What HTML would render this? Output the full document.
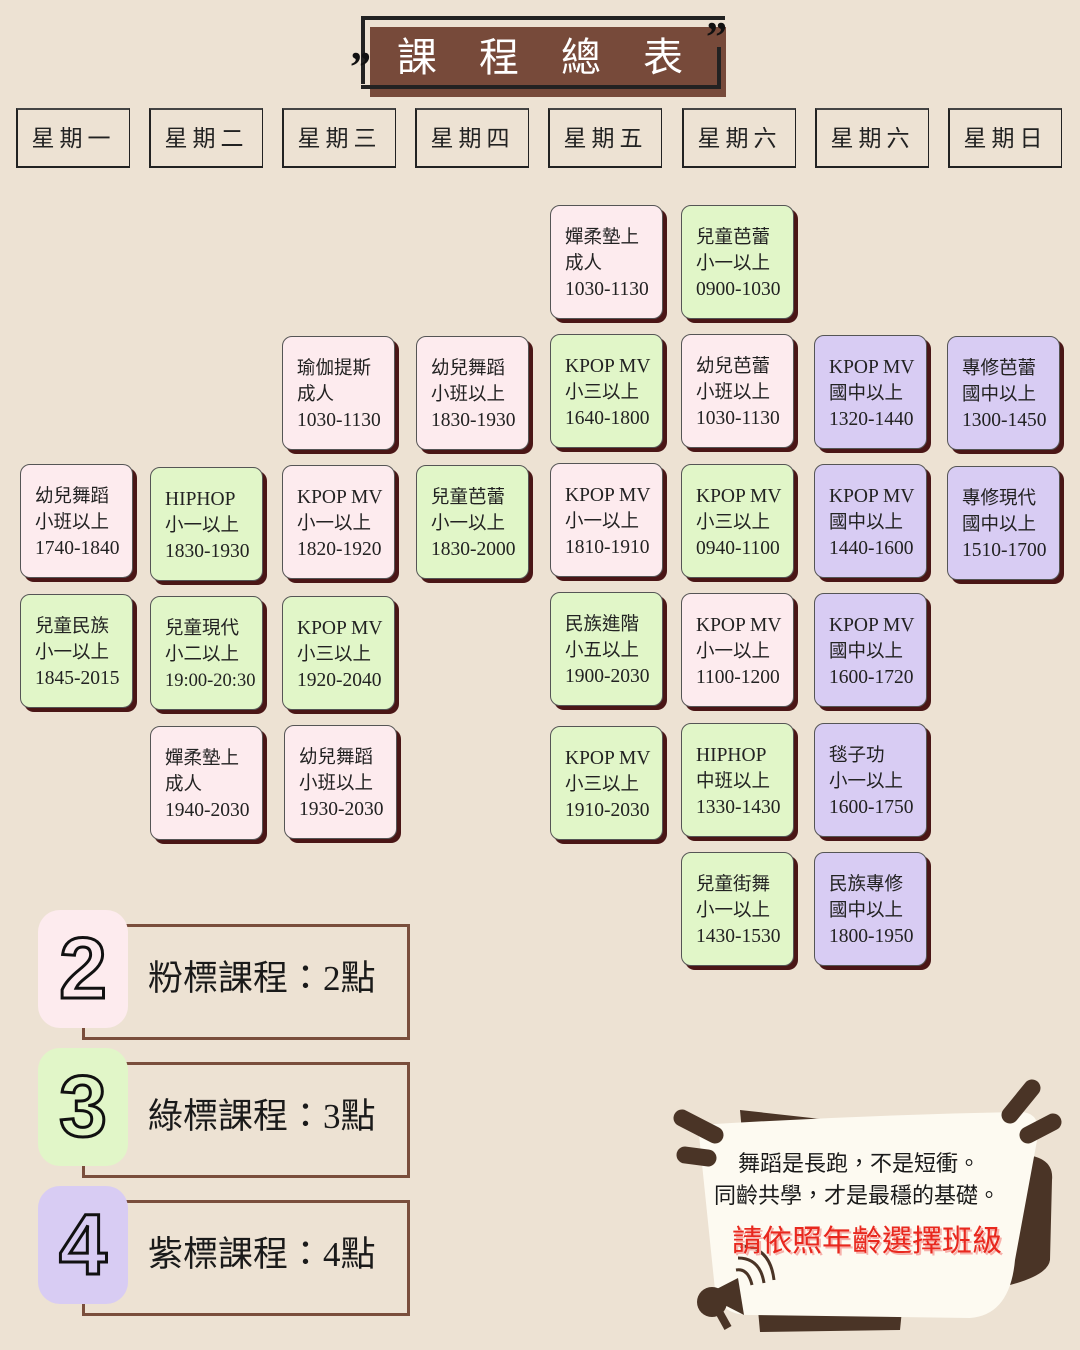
<!DOCTYPE html>
<html><head><meta charset="utf-8">
<style>
body{margin:0;}
#p{position:relative;width:1080px;height:1350px;background:#EDE2D3;overflow:hidden;font-family:"Liberation Serif","Noto Sans CJK TC",serif;}
.h{position:absolute;top:108px;width:114px;height:60px;border:2px solid #222;border-top-color:#444;box-sizing:border-box;font-family:"Liberation Sans","Noto Sans CJK TC",sans-serif;font-size:23px;letter-spacing:5px;color:#222;text-align:center;line-height:56px;border-right-width:1px}
.c{position:absolute;width:113px;height:114px;border:1px solid #555;border-radius:10px;box-sizing:border-box;box-shadow:4px 4px 0 #4a1616;padding:19px 0 0 14px;font-size:18.5px;line-height:26px;color:#222;white-space:nowrap}
.c span{font-family:"Liberation Serif",serif;font-size:19.5px;}
.p{background:#FDEBEE}.g{background:#E1F6C8}.u{background:#D8CCF3}
.lb{position:absolute;left:82px;width:328px;height:116px;border:3px solid #7a4e3c;box-sizing:border-box}
.lt{position:absolute;left:148px;font-size:35px;color:#1a1a1a;font-family:"Liberation Serif","Noto Sans CJK TC",serif}
.sq{position:absolute;left:38px;width:90px;height:118px;border-radius:22px;font-family:"Liberation Sans",sans-serif;font-size:86px;font-weight:bold;color:transparent;-webkit-text-stroke:3px #111;text-align:center;line-height:118px}
.tt{position:absolute;top:27px;color:#fff;font-family:'Liberation Sans','Noto Sans CJK TC',sans-serif;font-size:40px;line-height:62px}
</style></head><body><div id="p">
<!-- title -->
<div style="position:absolute;left:361px;top:16px;width:360px;height:64px;border-top:4px solid #222;border-left:4px solid #222"></div>
<div style="position:absolute;left:370px;top:27px;width:356px;height:70px;background:#774A3A"></div>
<div style="position:absolute;left:361px;top:47px;width:360px;height:42px;border-bottom:4px solid #222;border-right:4px solid #222;box-sizing:border-box;"></div>
<div class="tt" style="left:397px">課</div>
<div class="tt" style="left:479px">程</div>
<div class="tt" style="left:561px">總</div>
<div class="tt" style="left:643px">表</div>
<div style="position:absolute;left:350px;top:44px;font-size:42px;font-weight:bold;color:#111;font-family:'Liberation Serif',serif">”</div>
<div style="position:absolute;left:706px;top:14px;font-size:42px;font-weight:bold;color:#111;font-family:'Liberation Serif',serif">”</div>
<!-- headers -->
<div class="h" style="left:16px">星期一</div>
<div class="h" style="left:149px">星期二</div>
<div class="h" style="left:282px">星期三</div>
<div class="h" style="left:415px">星期四</div>
<div class="h" style="left:548px">星期五</div>
<div class="h" style="left:682px">星期六</div>
<div class="h" style="left:815px">星期六</div>
<div class="h" style="left:948px">星期日</div>
<!-- row1 -->
<div class="c p" style="left:550px;top:205px">嬋柔墊上<br>成人<br><span>1030-1130</span></div>
<div class="c g" style="left:681px;top:205px">兒童芭蕾<br>小一以上<br><span>0900-1030</span></div>
<!-- row2 -->
<div class="c p" style="left:282px;top:336px">瑜伽提斯<br>成人<br><span>1030-1130</span></div>
<div class="c p" style="left:416px;top:336px">幼兒舞蹈<br>小班以上<br><span>1830-1930</span></div>
<div class="c g" style="left:550px;top:334px"><span>KPOP MV</span><br>小三以上<br><span>1640-1800</span></div>
<div class="c p" style="left:681px;top:334px">幼兒芭蕾<br>小班以上<br><span>1030-1130</span></div>
<div class="c u" style="left:814px;top:335px"><span>KPOP MV</span><br>國中以上<br><span>1320-1440</span></div>
<div class="c u" style="left:947px;top:336px">專修芭蕾<br>國中以上<br><span>1300-1450</span></div>
<!-- row3 -->
<div class="c p" style="left:20px;top:464px">幼兒舞蹈<br>小班以上<br><span>1740-1840</span></div>
<div class="c g" style="left:150px;top:467px"><span>HIPHOP</span><br>小一以上<br><span>1830-1930</span></div>
<div class="c p" style="left:282px;top:465px"><span>KPOP MV</span><br>小一以上<br><span>1820-1920</span></div>
<div class="c g" style="left:416px;top:465px">兒童芭蕾<br>小一以上<br><span>1830-2000</span></div>
<div class="c p" style="left:550px;top:463px"><span>KPOP MV</span><br>小一以上<br><span>1810-1910</span></div>
<div class="c g" style="left:681px;top:464px"><span>KPOP MV</span><br>小三以上<br><span>0940-1100</span></div>
<div class="c u" style="left:814px;top:464px"><span>KPOP MV</span><br>國中以上<br><span>1440-1600</span></div>
<div class="c u" style="left:947px;top:466px">專修現代<br>國中以上<br><span>1510-1700</span></div>
<!-- row4 -->
<div class="c g" style="left:20px;top:594px">兒童民族<br>小一以上<br><span>1845-2015</span></div>
<div class="c g" style="left:150px;top:596px">兒童現代<br>小二以上<br><span style="font-size:18.5px">19:00-20:30</span></div>
<div class="c g" style="left:282px;top:596px"><span>KPOP MV</span><br>小三以上<br><span>1920-2040</span></div>
<div class="c g" style="left:550px;top:592px">民族進階<br>小五以上<br><span>1900-2030</span></div>
<div class="c p" style="left:681px;top:593px"><span>KPOP MV</span><br>小一以上<br><span>1100-1200</span></div>
<div class="c u" style="left:814px;top:593px"><span>KPOP MV</span><br>國中以上<br><span>1600-1720</span></div>
<!-- row5 -->
<div class="c p" style="left:150px;top:726px">嬋柔墊上<br>成人<br><span>1940-2030</span></div>
<div class="c p" style="left:284px;top:725px">幼兒舞蹈<br>小班以上<br><span>1930-2030</span></div>
<div class="c g" style="left:550px;top:726px"><span>KPOP MV</span><br>小三以上<br><span>1910-2030</span></div>
<div class="c g" style="left:681px;top:723px"><span>HIPHOP</span><br>中班以上<br><span>1330-1430</span></div>
<div class="c u" style="left:814px;top:723px">毯子功<br>小一以上<br><span>1600-1750</span></div>
<!-- row6 -->
<div class="c g" style="left:681px;top:852px">兒童街舞<br>小一以上<br><span>1430-1530</span></div>
<div class="c u" style="left:814px;top:852px">民族專修<br>國中以上<br><span>1800-1950</span></div>
<!-- legend -->
<div class="lb" style="top:924px"></div>
<div class="sq" style="top:910px;background:#FDEBEE">2</div>
<div class="lt" style="top:950px">粉標課程：<span>2</span>點</div>
<div class="lb" style="top:1062px"></div>
<div class="sq" style="top:1048px;background:#E1F6C8">3</div>
<div class="lt" style="top:1088px">綠標課程：<span>3</span>點</div>
<div class="lb" style="top:1200px"></div>
<div class="sq" style="top:1186px;background:#D8CCF3">4</div>
<div class="lt" style="top:1226px">紫標課程：<span>4</span>點</div>
<!-- bubble -->
<svg style="position:absolute;left:660px;top:1070px" width="420" height="280">
<polygon points="80,40 260,60 240,260 100,262" fill="#4a3426"/>
<path d="M340,85 Q395,80 392,110 L390,190 Q388,205 350,215 L330,215 Z" fill="#4a3426"/>
<path d="M38,55 Q200,45 360,42 Q380,42 378,65 L355,190 Q350,245 310,248 L90,245 Q60,245 55,220 Z" fill="#FDFAF1"/>
<g stroke="#4a3426" stroke-width="17" stroke-linecap="round">
<line x1="22" y1="48" x2="55" y2="65"/><line x1="25" y1="85" x2="48" y2="88"/>
<line x1="350" y1="45" x2="372" y2="18"/><line x1="368" y1="65" x2="393" y2="52"/>
</g>
<path d="M45,225 L78,208 L84,245 Z" fill="#4a3426"/>
<circle cx="52" cy="232" r="15" fill="#4a3426"/>
<path d="M58,240 l10,18" stroke="#4a3426" stroke-width="8"/>
<path d="M76,200 q12,-2 16,15 M78,188 q22,0 26,25 M80,176 q30,0 34,34" stroke="#4a3426" stroke-width="3" fill="none"/>
</svg>
<div style="position:absolute;left:660px;top:1148px;width:420px;font-family:'Liberation Sans','Noto Sans CJK TC',sans-serif;font-size:22px;line-height:32px;color:#1a1a1a">
<div style="padding-left:78px">舞蹈是長跑，不是短衝。</div>
<div style="padding-left:54px">同齡共學，才是最穩的基礎。</div>
<div style="padding-left:72px;margin-top:14px;color:#e8281e;font-size:30px;text-shadow:2px 2px 0 #f7b0aa">請依照年齡選擇班級</div>
</div>
</div></body></html>
